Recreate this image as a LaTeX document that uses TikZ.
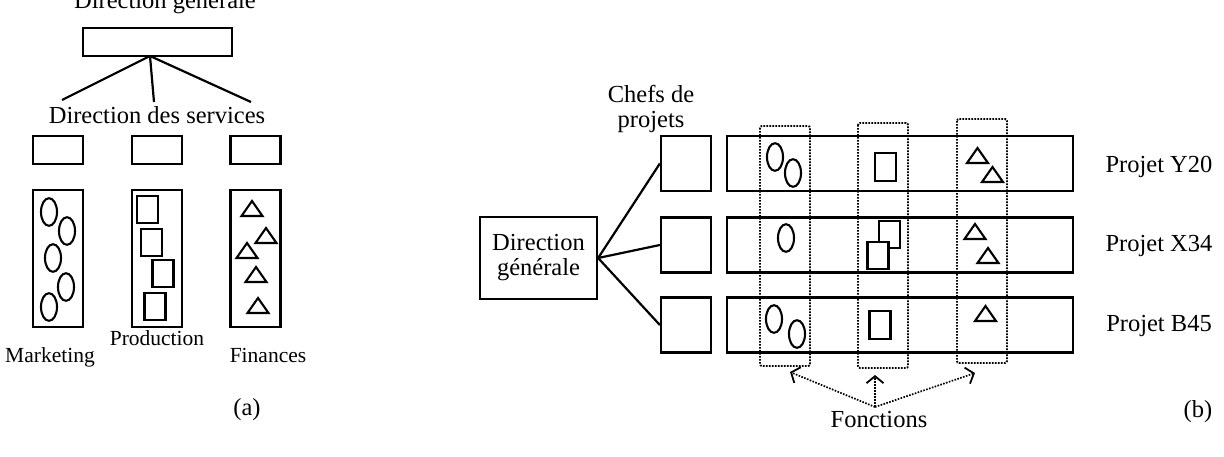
\documentclass[tikz,border=0pt]{standalone}
\usepackage{fontspec}
\setmainfont{Liberation Serif}
\usetikzlibrary{arrows.meta}
\tikzset{
  box/.style={draw, line width=2.3pt, inner sep=0pt},
  icon/.style={draw, line width=2.1pt, line join=miter},
  conn/.style={line width=2.2pt},
  dotcol/.style={line width=1.9pt, dash pattern=on 1.7pt off 1.3pt, rounded corners=2pt},
  dotarrow/.style={line width=1.7pt, dash pattern=on 1.6pt off 1.4pt, -{Straight Barb[length=7pt,width=17pt,line width=1.8pt]}},
  big/.style={font=\fontsize{24.5}{25}\selectfont},
  small/.style={font=\fontsize{21.5}{22}\selectfont},
}
\newcommand\myoval[2]{\draw[icon] (#1,#2) ellipse [x radius=8, y radius=13.8];}
\newcommand\mysq[2]{\draw[icon,fill=white] (#1-10.5,#2-13.7) rectangle (#1+10.5,#2+13.7);}
\newcommand\mytri[2]{\draw[icon] (#1,#2) -- (#1+10.5,#2+15) -- (#1-10.5,#2+15) -- cycle;}
\begin{document}
\begin{tikzpicture}[x=1pt,y=-1pt]
\useasboundingbox (0,0) rectangle (1224,456);
% ---------------- (a) ----------------
\node[big, anchor=base] (dglab) at (165,8) {Direction générale};
\node[box, minimum width=149pt, minimum height=28pt] (dga) at (157.5,42) {};
\coordinate (hub) at (150,56);
\coordinate (s1) at (62,100);
\coordinate (s2) at (154,102);
\coordinate (s3) at (251,102);
\draw[conn] (hub) -- (s1);
\draw[conn] (hub) -- (s2);
\draw[conn] (hub) -- (s3);
\node[big, anchor=base] (dslab) at (157,123) {Direction des services};
\foreach \n/\x in {m/58,p/157,f/255.5}{
  \node[box, minimum width=50pt, minimum height=28pt] (h\n) at (\x,150) {};
  \node[box, minimum width=50pt, minimum height=137pt] (c\n) at (\x,258.5) {};
}
\myoval{49}{212}\myoval{67}{231}\myoval{53}{258}\myoval{66}{287}\myoval{49}{307}
\mysq{147.5}{209.5}\mysq{151.5}{242.5}\mysq{163}{273.5}\mysq{155}{306.5}
\mytri{252}{201}\mytri{266}{228}\mytri{247}{243}\mytri{256}{267}\mytri{258}{298}
\node[small, anchor=base] (mk) at (50,362) {Marketing};
\node[small, anchor=base] (pr) at (157,345) {Production};
\node[small, anchor=base] (fi) at (268,362) {Finances};
\node[big] (la) at (247,410) {(a)};
% ---------------- (b) ----------------
\node[big, align=center] (chefs) at (651,109) {Chefs de\\projets};
\node[box, big, align=center, minimum width=117pt, minimum height=82pt] (dgb) at (538.5,258) {Direction\\générale};
\foreach \r/\y in {1/163.5,2/245,3/325}{
  \node[box, minimum width=50pt, minimum height=55pt] (ch\r) at (686,\y) {};
  \node[box, minimum width=346pt, minimum height=55pt] (bar\r) at (900,\y) {};
  \draw[conn] (dgb.east) -- (ch\r.west);
}
% row 1
\myoval{775}{157}\myoval{793}{173}
\mysq{885.5}{167}
\mytri{977.5}{148}\mytri{992.5}{167}
% row 2
\myoval{786}{238}
\mysq{889.5}{234.5}\mysq{878}{255.5}
\mytri{975}{224}\mytri{988}{248}
% row 3
\myoval{774}{319}\myoval{797}{334}
\mysq{880}{325}
\mytri{985.5}{306}
% dotted columns
\draw[dotcol] (760,126) rectangle (810,366);
\draw[dotcol] (858,123) rectangle (908,368);
\draw[dotcol] (957,119) rectangle (1007,363);
\node[big, anchor=base] (py) at (1159,172) {Projet Y20};
\node[big, anchor=base] (px) at (1159,251) {Projet X34};
\node[big, anchor=base] (pb) at (1159,331) {Projet B45};
\coordinate (fo) at (875,407);
\coordinate (t1) at (790,372);
\coordinate (t2) at (875,375);
\coordinate (t3) at (975,373);
\draw[dotarrow] (fo) -- (t1);
\draw[dotarrow] (fo) -- (t2);
\draw[dotarrow] (fo) -- (t3);
\node[big, anchor=base] (fn) at (879,427) {Fonctions};
\node[big] (lb) at (1198,412) {(b)};
\end{tikzpicture}
\end{document}
